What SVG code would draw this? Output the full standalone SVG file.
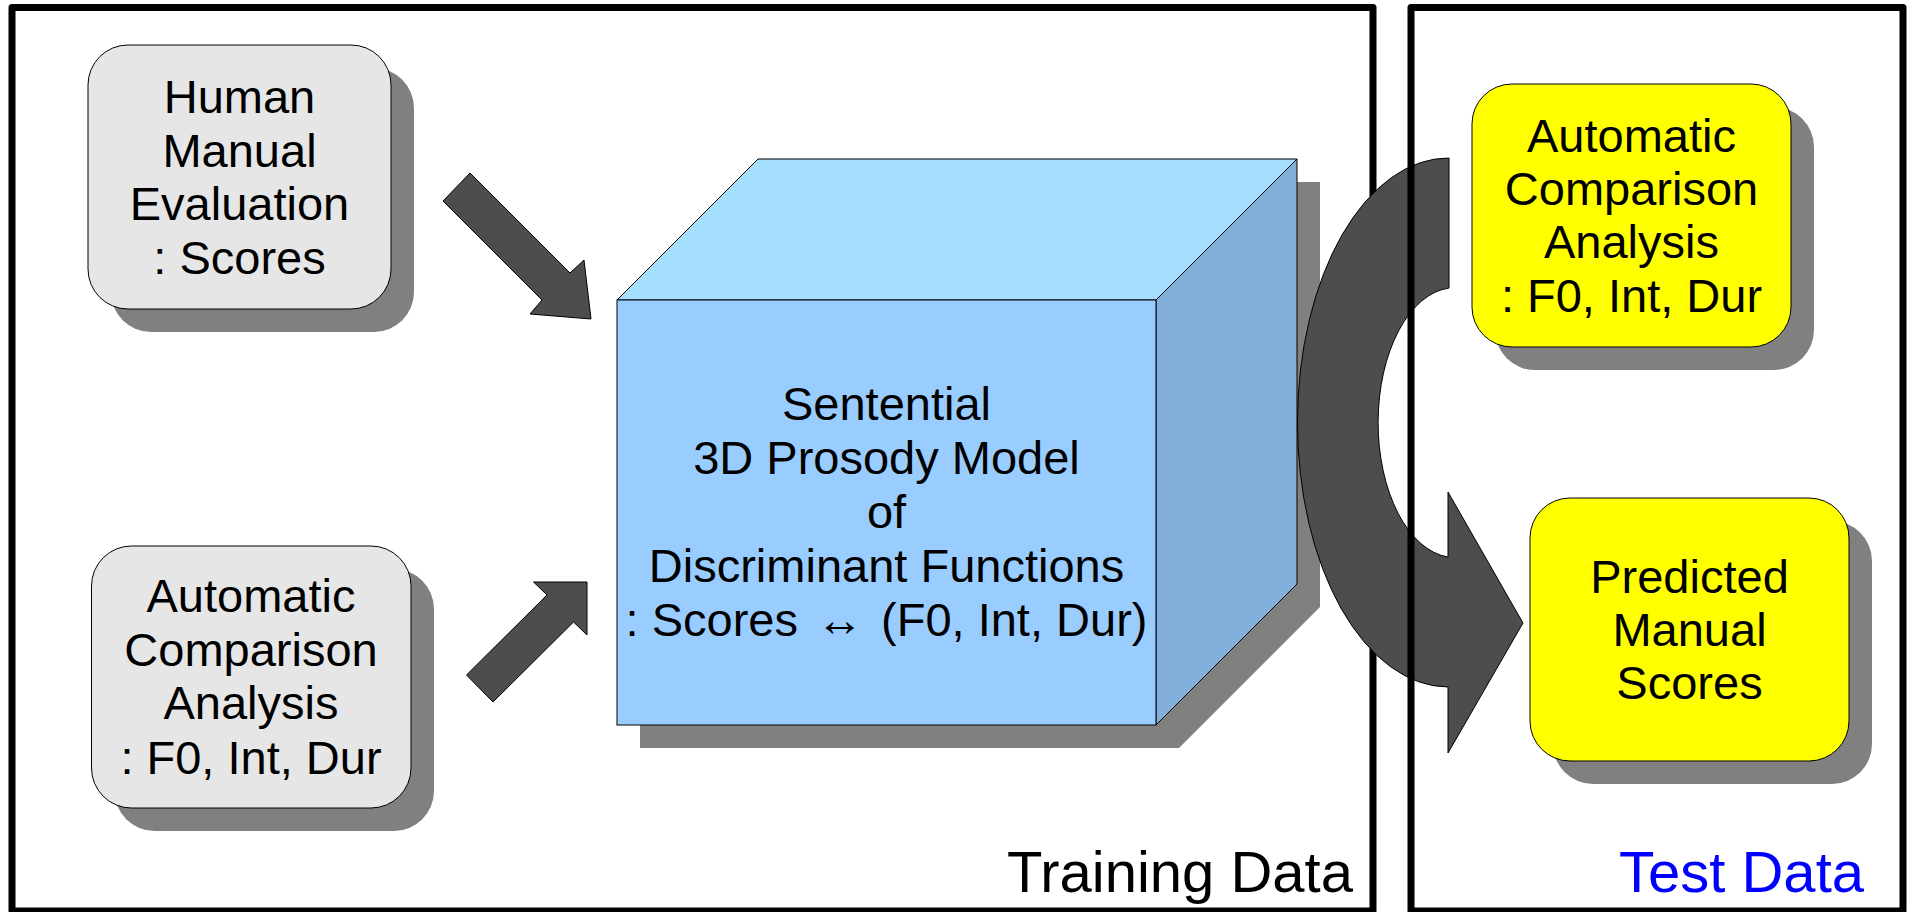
<svg xmlns="http://www.w3.org/2000/svg" width="1911" height="912" viewBox="0 0 1911 912">
  <style>
    .frame { fill: none; stroke: #000; stroke-width: 7; stroke-linejoin: round; }
    .shadow { fill: #808080; }
    .box { stroke: #000; stroke-width: 1; }
    .gray { fill: #e6e6e6; }
    .yellow { fill: #ffff00; }
    .lbl { font-family: "Liberation Sans", Arial, sans-serif; font-size: 47px; text-anchor: middle; fill: #000; }
    .caption { font-family: "Liberation Sans", Arial, sans-serif; font-size: 58px; text-anchor: end; }
    .arrow { fill: #4d4d4d; stroke: #000; stroke-width: 1; stroke-linejoin: round; }
  </style>

  <rect width="1911" height="912" fill="#fff"/>

  <!-- training data frame (sits under the connectors) -->
  <rect id="training-frame" class="frame" x="12" y="7.5" width="1361" height="903.5"/>

  <!-- human evaluation scores -->
  <g id="human-scores">
    <rect class="shadow" x="111" y="68" width="303" height="264" rx="40"/>
    <rect class="box gray" x="88" y="45" width="303" height="264" rx="40"/>
    <text class="lbl" x="239.5" y="113">Human</text>
    <text class="lbl" x="239.5" y="167">Manual</text>
    <text class="lbl" x="239.5" y="220">Evaluation</text>
    <text class="lbl" x="239.5" y="274">: Scores</text>
  </g>

  <!-- automatic analysis, training side -->
  <g id="auto-analysis-train">
    <rect class="shadow" x="114.5" y="569" width="319.5" height="262" rx="40"/>
    <rect class="box gray" x="91.5" y="546" width="319.5" height="262" rx="40"/>
    <text class="lbl" x="251" y="612">Automatic</text>
    <text class="lbl" x="251" y="666">Comparison</text>
    <text class="lbl" x="251" y="719">Analysis</text>
    <text class="lbl" x="251" y="774">: F0, Int, Dur</text>
  </g>

  <!-- prosody model cube -->
  <g id="prosody-model">
    <polygon class="shadow" points="640,323 781,182 1320,182 1320,607 1179,748 640,748"/>
    <polygon class="box" fill="#a6defe" points="617,300 758,159 1297,159 1156,300"/>
    <polygon class="box" fill="#83b0da" points="1156,300 1297,159 1297,584 1156,725"/>
    <rect class="box" fill="#99ccff" x="617" y="300" width="539" height="425"/>
    <text class="lbl" x="886.5" y="420">Sentential</text>
    <text class="lbl" x="886.5" y="474">3D Prosody Model</text>
    <text class="lbl" x="886.5" y="528">of</text>
    <text class="lbl" x="886.5" y="582">Discriminant Functions</text>
    <text class="lbl" x="886.5" y="636">: Scores <tspan dx="5">↔</tspan><tspan dx="5"> (F0, Int, Dur)</tspan></text>
  </g>

  <!-- automatic analysis, test side -->
  <g id="auto-analysis-test">
    <rect class="shadow" x="1495" y="107" width="319" height="263" rx="40"/>
    <rect class="box yellow" x="1472" y="84" width="319" height="263" rx="40"/>
    <text class="lbl" x="1631.5" y="152">Automatic</text>
    <text class="lbl" x="1631.5" y="205">Comparison</text>
    <text class="lbl" x="1631.5" y="258">Analysis</text>
    <text class="lbl" x="1631.5" y="312">: F0, Int, Dur</text>
  </g>

  <!-- predicted scores -->
  <g id="predicted-scores">
    <rect class="shadow" x="1553" y="521" width="319" height="263" rx="40"/>
    <rect class="box yellow" x="1530" y="498" width="319" height="263" rx="40"/>
    <text class="lbl" x="1689.5" y="593">Predicted</text>
    <text class="lbl" x="1689.5" y="646">Manual</text>
    <text class="lbl" x="1689.5" y="699">Scores</text>
  </g>

  <!-- connectors -->
  <g id="connectors">
    <polygon class="arrow" points="470,173 443,201 542,300 530,314 591,319 584,260 570,273"/>
    <polygon class="arrow" points="587,582 533.5,582 547,595 466.5,675 493,702 573.5,622 587,635"/>
    <path class="arrow" d="M1449,158 A151,264.5 0 0 0 1448,687 L1448,753 L1523,623 L1448,492 L1448,557 A77,135 0 0 1 1449,288 Z"/>
  </g>

  <!-- test data frame (drawn over the curved connector) -->
  <rect id="test-frame" class="frame" x="1411" y="7.5" width="492" height="903.5"/>

  <text class="caption" x="1353" y="892" fill="#000">Training Data</text>
  <text class="caption" x="1864" y="892" fill="#0000ff">Test Data</text>
</svg>
